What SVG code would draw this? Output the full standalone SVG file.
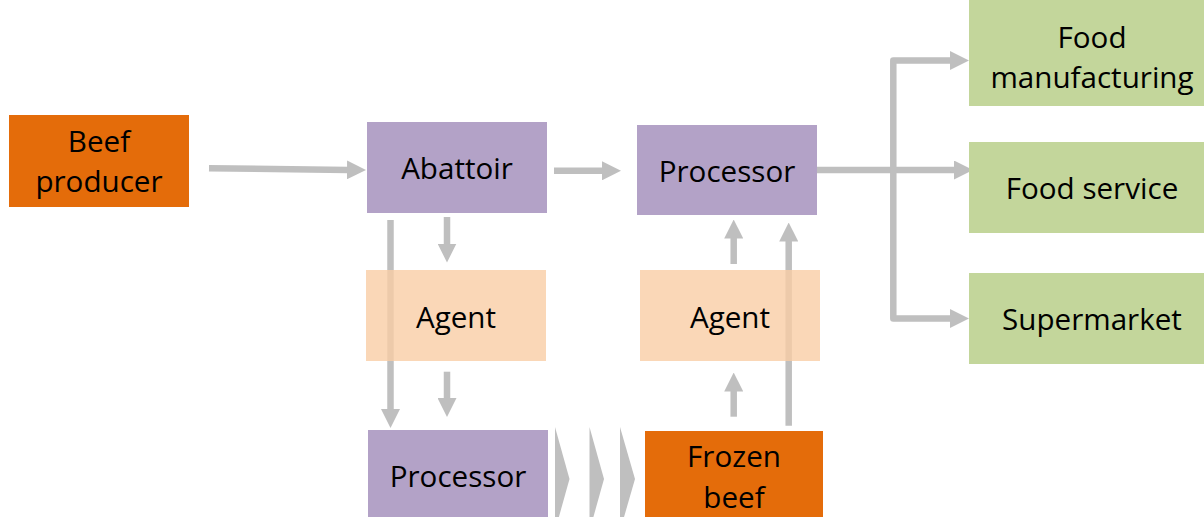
<svg xmlns="http://www.w3.org/2000/svg" width="1204" height="517" viewBox="0 0 1204 517">
  <defs>
    <style>
      .lbl { font-family: "Open Sans", "Liberation Sans", sans-serif; font-size: 29.6px; fill: #000; text-anchor: middle; }
      .orange { fill: #E46C0A; }
      .purple { fill: #B3A2C7; }
      .peach { fill: #F9CDA5; fill-opacity: 0.8; }
      .green { fill: #C3D69B; }
      .conn { fill: none; stroke: #BFBFBF; stroke-width: 6.5; stroke-linejoin: round; marker-end: url(#head); }
      .chev { fill: #BFBFBF; }
    </style>
    <marker id="head" markerUnits="userSpaceOnUse" markerWidth="19" markerHeight="19" refX="1" refY="9.5" orient="auto">
      <path d="M0,0 L19,9.5 L0,19 Z" fill="#BFBFBF"/>
    </marker>
  </defs>

  <rect width="1204" height="517" fill="#FFFFFF"/>

  <!-- connectors -->
  <g id="connectors">
    <path class="conn" d="M209,168.3 L348,169.9"/>
    <path class="conn" d="M554,170.8 H603"/>
    <path class="conn" d="M817,170 H955"/>
    <path class="conn" d="M893.3,170 V60.5 H951"/>
    <path class="conn" d="M893.3,170 V318.5 H951"/>
    <path class="conn" d="M390.5,220 V410"/>
    <path class="conn" d="M447,217 V244.5"/>
    <path class="conn" d="M447,371.7 V399"/>
    <path class="conn" d="M733.7,264 V237.5"/>
    <path class="conn" d="M788.7,425.7 V240.5"/>
    <path class="conn" d="M733.7,416.7 V390.5"/>
    <polygon class="chev" points="555,427 569.5,479 555,531"/>
    <polygon class="chev" points="589.5,427 604,479 589.5,531"/>
    <polygon class="chev" points="620,427 635,479 620,531"/>
  </g>

  <g id="beef-producer">
    <rect class="orange" x="9" y="115" width="180" height="92"/>
    <text class="lbl" x="99" y="152.3">Beef</text>
    <text class="lbl" x="99" y="191.7">producer</text>
  </g>

  <g id="abattoir">
    <rect class="purple" x="367" y="122" width="180" height="91"/>
    <text class="lbl" x="457" y="179.3">Abattoir</text>
  </g>

  <g id="processor-main">
    <rect class="purple" x="637" y="125" width="180" height="90"/>
    <text class="lbl" x="727" y="181.7">Processor</text>
  </g>

  <g id="agent-left">
    <rect class="peach" x="366" y="270" width="180" height="91"/>
    <text class="lbl" x="456" y="328.3">Agent</text>
  </g>

  <g id="agent-right">
    <rect class="peach" x="640" y="270" width="180" height="91"/>
    <text class="lbl" x="730" y="328.3">Agent</text>
  </g>

  <g id="processor-frozen">
    <rect class="purple" x="368" y="430" width="180" height="95"/>
    <text class="lbl" x="458" y="486.7">Processor</text>
  </g>

  <g id="frozen-beef">
    <rect class="orange" x="645" y="431" width="178" height="95"/>
    <text class="lbl" x="734" y="466.7">Frozen</text>
    <text class="lbl" x="734" y="508.3">beef</text>
  </g>

  <g id="food-manufacturing">
    <rect class="green" x="969" y="0" width="246" height="106"/>
    <text class="lbl" x="1092" y="47.5">Food</text>
    <text class="lbl" x="1092" y="87.5">manufacturing</text>
  </g>

  <g id="food-service">
    <rect class="green" x="969" y="142" width="246" height="91"/>
    <text class="lbl" x="1092" y="199">Food service</text>
  </g>

  <g id="supermarket">
    <rect class="green" x="969" y="273" width="246" height="91"/>
    <text class="lbl" x="1092" y="330">Supermarket</text>
  </g>
</svg>
